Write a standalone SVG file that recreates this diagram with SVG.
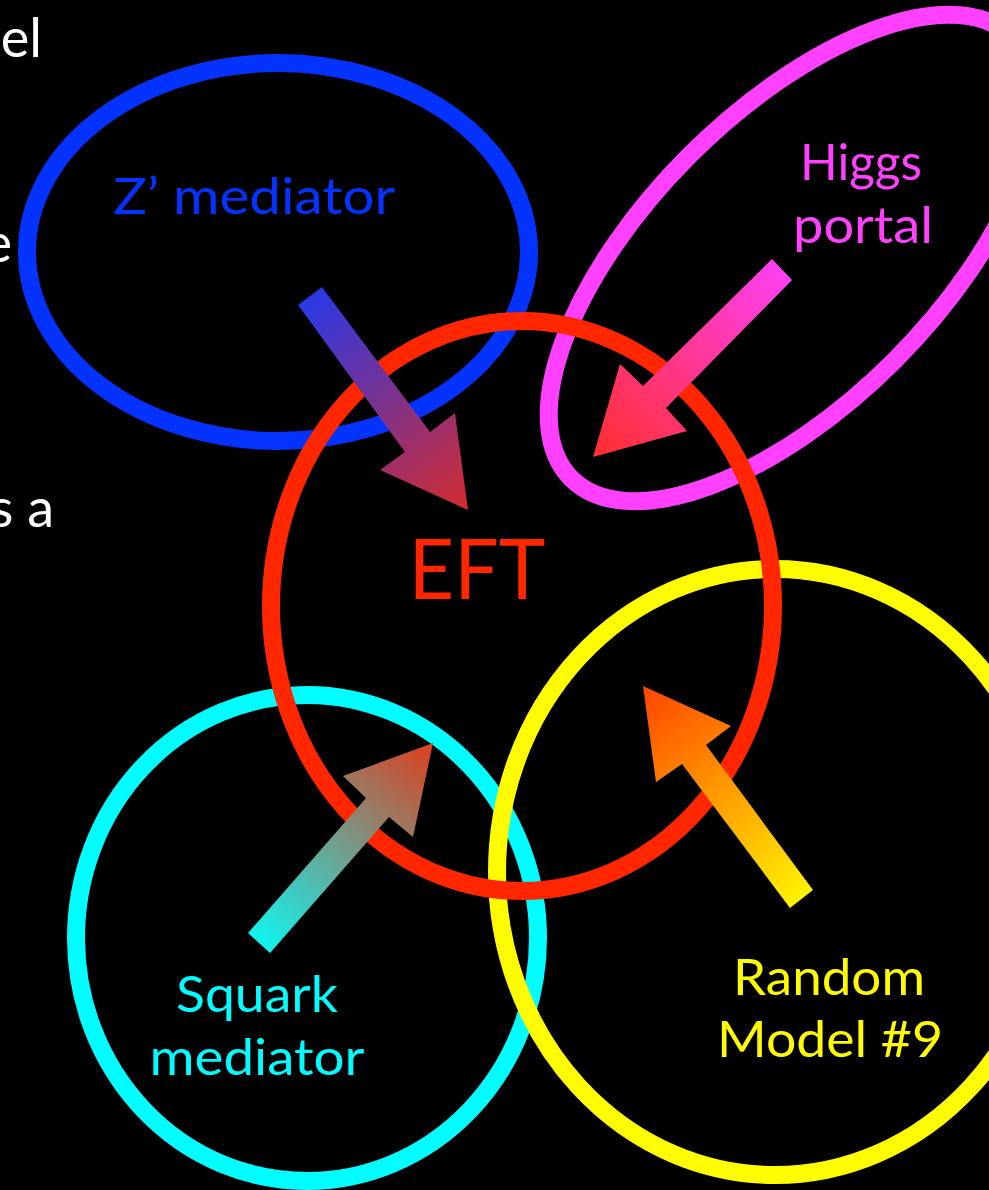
<svg xmlns="http://www.w3.org/2000/svg" width="989" height="1190" viewBox="0 0 989 1190">
<style>
.ring{fill:none;stroke-width:18}
.lbl{font-family:Lato,"Open Sans","Liberation Sans",sans-serif;text-anchor:middle}
.side{font-family:Lato,"Open Sans","Liberation Sans",sans-serif;fill:#ffffff;font-size:54px;text-anchor:end}
</style>
<defs>
<linearGradient id="gZ" gradientUnits="userSpaceOnUse" x1="310" y1="296" x2="468" y2="510">
<stop offset="0" stop-color="#2A38E6"/><stop offset="1" stop-color="#D42B2E"/>
</linearGradient>
<linearGradient id="gH" gradientUnits="userSpaceOnUse" x1="782" y1="270" x2="593" y2="457">
<stop offset="0" stop-color="#FF40F2"/><stop offset="1" stop-color="#FF2E2E"/>
</linearGradient>
<linearGradient id="gS" gradientUnits="userSpaceOnUse" x1="259" y1="943" x2="433" y2="743">
<stop offset="0" stop-color="#10F4F0"/><stop offset="1" stop-color="#DE3E1E"/>
</linearGradient>
<linearGradient id="gR" gradientUnits="userSpaceOnUse" x1="801" y1="899" x2="643" y2="686">
<stop offset="0" stop-color="#FFF200"/><stop offset="1" stop-color="#FF4400"/>
</linearGradient>
</defs>
<rect x="0" y="0" width="989" height="1190" fill="#000000"/>
<g id="side-text">
<text class="side" x="42" y="57">el</text>
<text class="side" x="12" y="262">e</text>
<text class="side" x="54" y="527">s a</text>
</g>
<g id="node-zprime">
<ellipse class="ring" cx="278" cy="252" rx="251" ry="189" stroke="#0433FF"/>
<text class="lbl" x="254" y="214" font-size="50" fill="#0433FF" textLength="282" lengthAdjust="spacingAndGlyphs">Z’ mediator</text>
</g>
<g id="node-higgs">
<ellipse class="ring" cx="792" cy="258" rx="312" ry="145" transform="rotate(-45 792 258)" stroke="#FF40FF"/>
<text class="lbl" x="861" y="180" font-size="50" fill="#FF40FF" textLength="122" lengthAdjust="spacingAndGlyphs">Higgs</text>
<text class="lbl" x="863" y="243" font-size="50" fill="#FF40FF" textLength="140" lengthAdjust="spacingAndGlyphs">portal</text>
</g>
<g id="node-squark">
<ellipse class="ring" cx="307" cy="938" rx="231" ry="243" stroke="#00FDFF"/>
<text class="lbl" x="257" y="1012" font-size="50" fill="#00FDFF" textLength="162" lengthAdjust="spacingAndGlyphs">Squark</text>
<text class="lbl" x="257" y="1075" font-size="50" fill="#00FDFF" textLength="215" lengthAdjust="spacingAndGlyphs">mediator</text>
</g>
<g id="node-random">
<ellipse class="ring" cx="775" cy="872" rx="278" ry="303" stroke="#FFFB00"/>
<text class="lbl" x="829" y="995" font-size="50" fill="#FFFB00" textLength="192" lengthAdjust="spacingAndGlyphs">Random</text>
<text class="lbl" x="830" y="1057" font-size="50" fill="#FFFB00" textLength="226" lengthAdjust="spacingAndGlyphs">Model #9</text>
</g>
<g id="node-eft">
<ellipse class="ring" cx="522" cy="606" rx="251" ry="285" stroke="#FF2600"/>
<text class="lbl" x="477" y="599" font-size="84" fill="#FF2600" textLength="137" lengthAdjust="spacingAndGlyphs">EFT</text>
</g>
<g id="connectors">
<polygon fill="url(#gZ)" points="298,305 322,287 430,432 455,413 468,510 380,470 405,452"/>
<polygon fill="url(#gH)" points="772,259 792,280 666,408 687,431 593,457 620,364 643,386"/>
<polygon fill="url(#gS)" points="248,933 270,953 389,817 413,837 433,743 343,776 366,798"/>
<polygon fill="url(#gR)" points="790,908 813,890 706,745 731,726 643,686 656,782 682,764"/>
</g>
</svg>
